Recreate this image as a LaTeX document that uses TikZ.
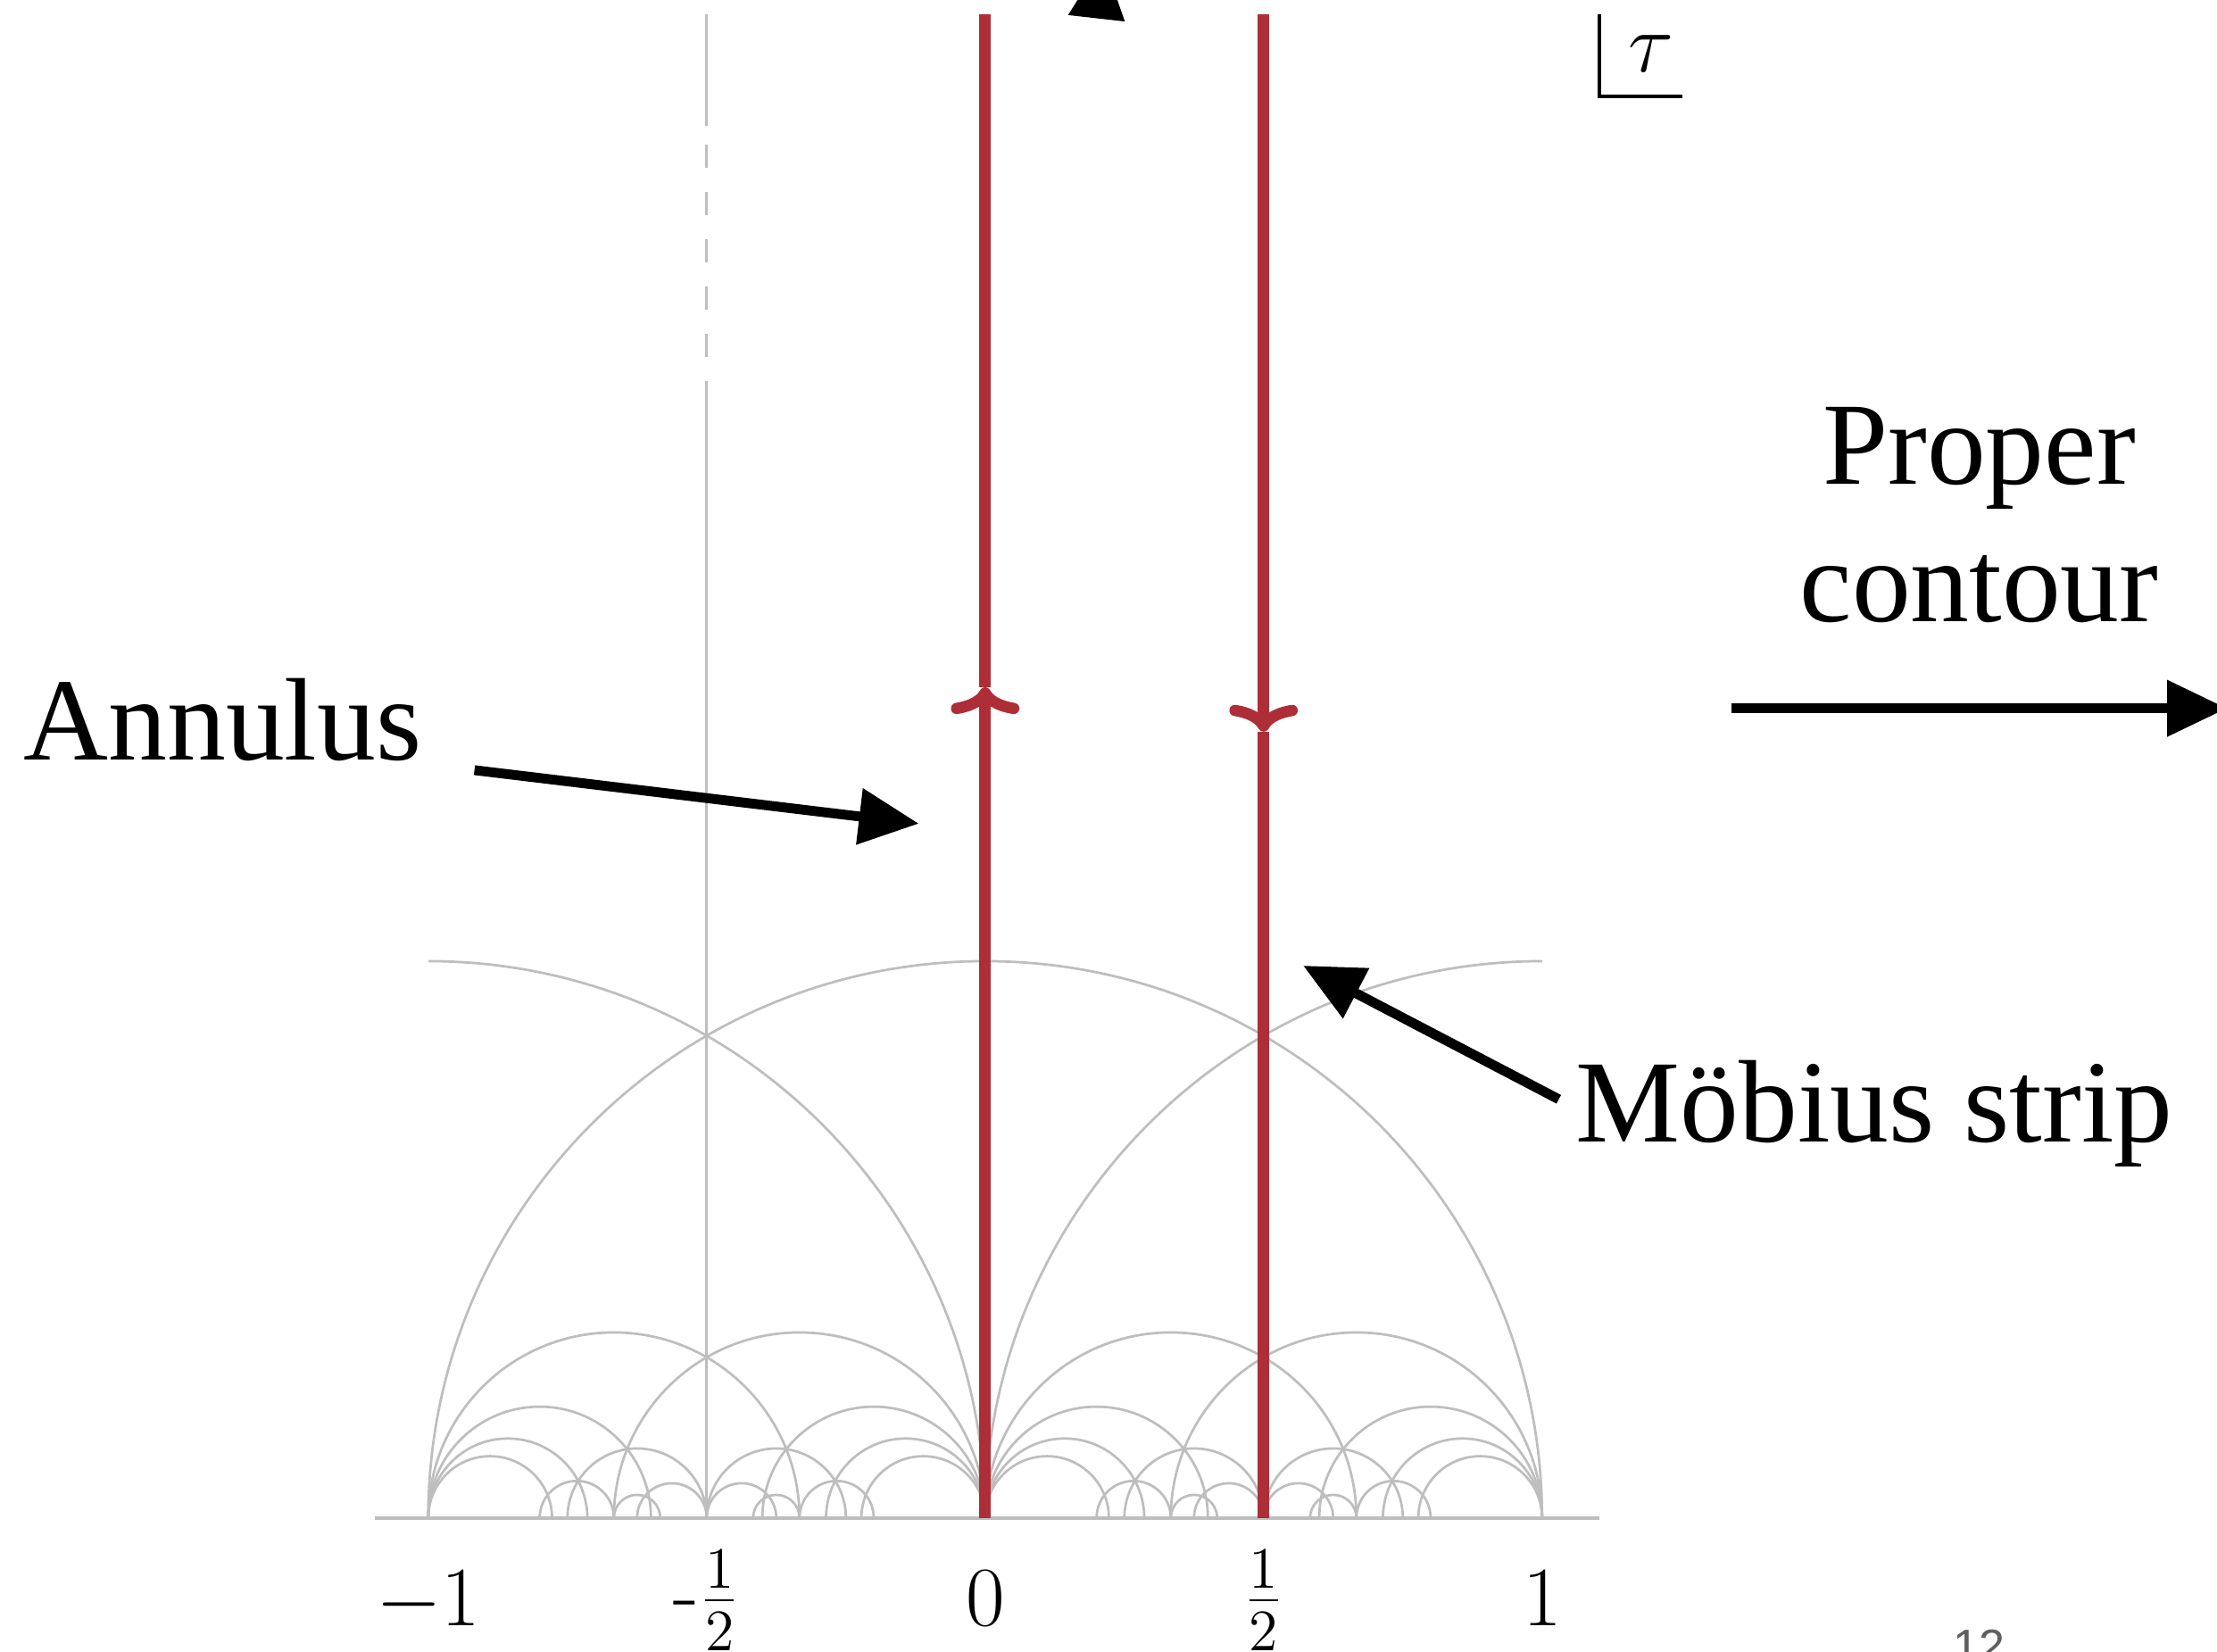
\documentclass[tikz,border=0pt]{standalone}
\usepackage{fontspec}
\newfontfamily\wordfont{Liberation Serif}
\newfontfamily\pagefont{Liberation Sans}
\usetikzlibrary{arrows.meta}
\definecolor{tessgray}{RGB}{190,190,190}
\definecolor{contourred}{RGB}{174,46,56}
\definecolor{pagegray}{RGB}{95,95,95}

\begin{document}
\begin{tikzpicture}[x=4cm,y=4cm,
  tess/.style={tessgray,line width=0.5pt},
  redline/.style={contourred,line width=2.3pt},
  flow/.style={redline,-{To[length=5.5pt,width=14pt,round]}},
  pointer/.style={line width=2pt,-{Triangle[length=4.3mm,width=3.9mm]}},
  word/.style={font=\wordfont\fontsize{24}{28}\selectfont,inner sep=0pt,anchor=base},
  ticklab/.style={font=\LARGE,inner sep=0pt,anchor=base}]
\useasboundingbox (-1.769,-0.239) rectangle (2.212,2.726);
% real axis
\draw[tess,line width=0.6pt] (-1.096,0) -- (1.103,0);
% large arcs
\draw[tess] (1,0) arc[start angle=0,end angle=180,radius=1];
\draw[tess] (0,0) arc[start angle=0,end angle=90,radius=1];
\draw[tess] (0,0) arc[start angle=180,end angle=90,radius=1];
% small arcs on [-1,0], repeated on [0,1]
\foreach \s in {0,1}{
  \foreach \a/\b in {-1/{-1/3},-1/{-3/5},-1/{-5/7},-1/{-7/9},
                     {-3/4}/{-1/2},{-4/5}/{-2/3},{-5/8}/{-1/2},{-2/3}/{-7/12},
                     {-2/3}/0,{-2/5}/0,{-2/7}/0,{-2/9}/0,
                     {-1/2}/{-1/4},{-1/3}/{-1/5},{-1/2}/{-3/8},{-5/12}/{-1/3}}{
    \draw[tess] ({(\b)+\s},0) arc[start angle=0,end angle=180,radius={((\b)-(\a))/2}];
  }
}
% line Re = -1/2, broken near the top
\draw[tess] (-0.5,0) -- (-0.5,2.042);
\foreach \k in {0,...,4}
  \draw[tess] (-0.5,{2.085+0.0849*\k}) -- (-0.5,{2.127+0.0849*\k});
\draw[tess] (-0.5,2.5) -- (-0.5,2.7);
% red contours
\coordinate (A0) at (0,0);
\coordinate (A1) at (0,1.492);
\coordinate (A2) at (0,2.7);
\coordinate (M0) at (0.5,0);
\coordinate (M1) at (0.5,1.412);
\coordinate (M2) at (0.5,2.7);
\draw[flow] (A0) -- (A1);
\draw[redline] (A1) -- (A2);
\draw[flow] (M2) -- (M1);
\draw[redline] (M1) -- (M0);
% tick labels
\node[ticklab] (lm1) at (-1,-0.194) {$-1$};
\node[ticklab] (lmh) at (-0.5,-0.186) {-$\frac{1}{2}$};
\node[ticklab] (l0) at (0,-0.194) {$0$};
\node[ticklab] (lh) at (0.5,-0.186) {$\frac{1}{2}$};
\node[ticklab] (l1) at (1,-0.194) {$1$};
% tau corner
\coordinate (tauC) at (1.103,2.553);
\draw[line width=0.6pt] (1.103,2.700) -- (tauC) -- (1.252,2.553);
\node[font=\LARGE,inner sep=0pt] (tau) at (1.196,2.630) {$\tau$};
% words
\node[word] (annulus) at (-1.369,1.362) {Annulus};
\node[word] (mobius) at (1.597,0.675) {Möbius strip};
\node[word] (proper) at (1.785,1.857) {Proper};
\node[word] (contour) at (1.785,1.609) {contour};
% pointers
\coordinate (annulus tail) at (-0.917,1.343);
\coordinate (annulus tip) at (-0.119,1.247);
\coordinate (mobius tail) at (1.030,0.752);
\coordinate (mobius tip) at (0.571,0.992);
\coordinate (contour tail) at (1.340,1.454);
\coordinate (contour tip) at (2.23,1.454);
\coordinate (top tail) at (0.200,2.694);
\coordinate (top tip) at (0.212,2.800);
\draw[pointer] (annulus tail) -- (annulus tip);
\draw[pointer] (mobius tail) -- (mobius tip);
\draw[pointer] (contour tail) -- (contour tip);
\draw[pointer] (top tail) -- (top tip);
% page number
\node[font=\pagefont\fontsize{9.5}{10}\selectfont,text=pagegray,anchor=north,inner sep=0pt] (page) at (1.785,-0.199) {12};
\end{tikzpicture}
\end{document}
